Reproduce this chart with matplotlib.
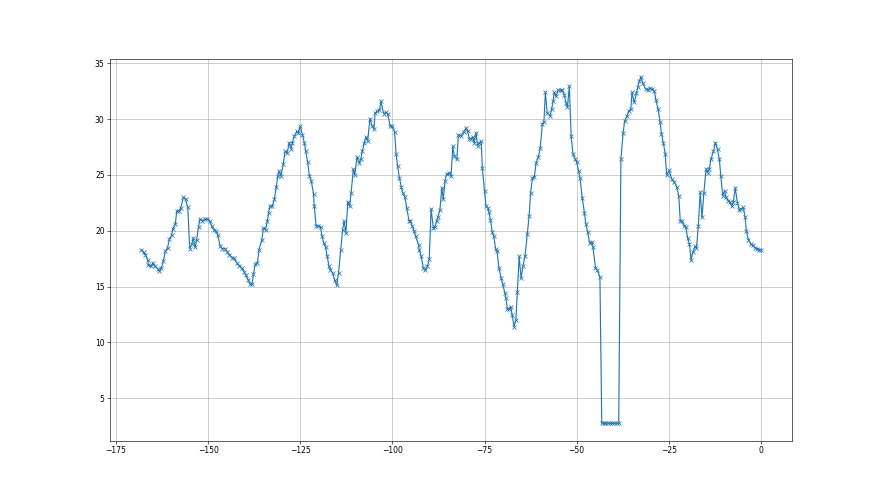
import numpy as np
import matplotlib
matplotlib.use("Agg")
import matplotlib.pyplot as plt

# readings, split into chunks (x = hours relative to now)
hours_a = [-168.2, -167.5, -167.0, -166.4, -166.2, -165.6, -165.0, -164.4, -163.7, -163.2,
           -162.7, -162.1, -161.6, -161.0, -160.5, -159.9, -159.6, -158.9, -158.5, -157.8,
           -157.4, -156.7, -156.1, -155.5, -155.0, -154.4, -154.0, -153.5, -153.1, -152.6,
           -152.2, -151.6, -150.8, -150.2, -149.6, -149.0, -148.5, -147.9, -147.4, -146.7,
           -146.1, -145.4, -144.8, -144.2, -143.6, -142.9, -142.2, -141.5, -140.9, -140.2,
           -139.7, -139.1, -138.6, -138.1, -137.7, -137.2, -136.6]
values_a = [18.3, 18.05, 17.85, 17.4, 16.95, 16.8, 17.1, 16.8, 16.6, 16.4,
            16.65, 17.3, 18.15, 18.45, 19.25, 19.6, 20.15, 20.6, 21.75, 21.8,
            22.05, 23.0, 22.8, 22.1, 18.4, 18.8, 19.35, 18.5, 19.2, 20.3,
            21.05, 20.9, 21.05, 21.05, 20.9, 20.4, 20.1, 19.95, 19.65, 18.6,
            18.4, 18.4, 18.1, 17.85, 17.6, 17.55, 17.1, 16.85, 16.65, 16.3,
            16.0, 15.6, 15.2, 15.2, 16.1, 17.0, 17.1]

hours_b = [-136.2, -135.4, -135.0, -134.4, -133.9, -133.6, -133.2, -132.6, -132.0, -131.5,
           -131.1, -130.7, -130.2, -129.6, -129.1, -128.5, -128.0, -127.5, -127.1, -126.6,
           -125.9, -125.5, -125.0, -124.4, -123.9, -123.5, -123.0, -122.5, -122.0, -121.4,
           -121.2, -120.7, -120.1, -119.5, -119.1, -118.6, -118.1, -117.7, -117.2, -116.8,
           -116.2, -115.7, -115.1, -114.6, -114.0, -113.5, -113.1, -112.6, -112.1, -111.6,
           -111.2, -110.6, -110.2, -109.6, -109.0, -108.5, -108.2, -107.6, -107.2, -106.7,
           -106.1, -105.5, -105.0, -104.7, -104.1, -103.5, -103.1, -102.4, -101.8, -101.3,
           -100.6]
values_b = [18.3, 19.2, 20.25, 20.1, 20.9, 21.6, 22.2, 22.2, 22.85, 23.9,
            24.9, 25.35, 24.9, 26.0, 27.1, 27.0, 27.9, 27.35, 27.9, 28.5,
            28.9, 28.8, 29.35, 28.6, 27.9, 27.1, 26.15, 24.9, 24.45, 23.3,
            22.2, 20.45, 20.45, 20.35, 19.5, 18.9, 18.5, 17.75, 16.8, 16.5,
            16.2, 15.6, 15.1, 16.25, 18.3, 20.1, 20.85, 19.8, 22.6, 22.2,
            23.4, 25.5, 25.0, 26.6, 26.1, 26.45, 27.1, 27.9, 28.4, 28.05,
            30.05, 29.4, 29.1, 30.55, 30.7, 30.8, 31.6, 30.5, 30.6, 30.5,
            29.4]

hours_c = [-100.0, -99.4, -99.0, -98.6, -98.1, -97.6, -97.2, -96.6, -96.1, -95.5,
           -95.1, -94.6, -94.1, -93.7, -92.9, -92.7, -92.2, -91.6, -91.1, -90.5,
           -90.0, -89.5, -88.9, -88.5, -88.0, -87.6, -87.1, -86.6, -86.2, -85.7,
           -85.3, -84.6, -84.1, -83.6, -83.2, -82.5, -82.1, -81.4, -80.7, -80.0,
           -79.6, -79.1, -78.7, -78.2, -77.8, -77.3, -76.9, -76.4, -75.9, -75.6,
           -75.0, -74.6, -74.1, -73.8, -73.4, -72.9, -72.5, -72.0, -71.6, -71.1,
           -70.5, -70.1, -69.5, -69.2, -68.8, -68.4, -67.9, -67.5, -67.0, -66.5,
           -66.1, -65.6, -65.1, -64.6]
values_c = [29.35, 28.85, 26.9, 25.8, 24.75, 23.9, 23.4, 23.0, 22.05, 20.9,
            20.85, 20.4, 19.95, 19.5, 18.75, 18.25, 17.7, 16.65, 16.45, 16.8,
            17.45, 21.95, 20.25, 20.3, 20.85, 21.25, 21.9, 23.85, 22.8, 24.5,
            25.05, 25.2, 24.9, 27.55, 26.7, 26.4, 28.6, 28.5, 28.85, 29.2,
            28.9, 28.25, 28.25, 28.4, 27.9, 28.8, 27.6, 27.9, 28.0, 25.6,
            23.6, 22.2, 22.05, 21.65, 21.0, 19.85, 19.5, 18.4, 18.15, 16.65,
            15.75, 15.25, 14.45, 13.95, 12.95, 13.0, 13.2, 12.45, 11.4, 12.0,
            14.5, 17.7, 15.75, 16.8]

hours_d = [-64.0, -63.4, -62.9, -62.5, -62.0, -61.5, -61.0, -60.4, -59.9, -59.3,
           -58.9, -58.5, -58.0, -57.2, -56.8, -56.4, -56.1, -55.6, -55.0, -54.3,
           -53.9, -53.4, -52.9, -52.5, -52.0, -51.5, -51.0, -50.4, -50.0, -49.5,
           -49.1, -48.5, -47.9, -47.5, -47.0, -46.5, -45.9, -45.6, -44.9, -44.4,
           -43.7, -43.2, -42.7, -42.2, -41.6, -41.0, -40.4, -39.8, -39.2, -38.6,
           -38.0, -37.4, -37.0, -36.4, -35.9, -35.3, -35.0, -34.4, -33.8, -33.4,
           -33.0, -32.6]
values_d = [17.75, 19.75, 21.35, 23.4, 24.75, 24.8, 26.1, 26.6, 27.4, 29.6,
            29.7, 32.4, 30.55, 30.3, 30.9, 31.6, 32.4, 32.05, 32.6, 32.6,
            32.6, 32.2, 31.45, 31.1, 32.95, 28.5, 26.9, 26.4, 26.15, 25.35,
            24.75, 22.95, 21.6, 20.6, 19.85, 18.9, 19.0, 18.55, 16.7, 16.45,
            15.85, 2.75, 2.75, 2.75, 2.75, 2.75, 2.75, 2.75, 2.75, 2.75,
            26.45, 28.8, 29.8, 30.25, 30.7, 30.9, 32.4, 31.5, 32.3, 32.9,
            33.4, 33.8]

hours_e = [-32.1, -31.3, -30.7, -30.1, -29.5, -28.9, -28.5, -27.9, -27.4, -27.0,
           -26.5, -26.0, -25.6, -24.9, -24.2, -23.6, -22.9, -22.3, -21.9, -21.4,
           -20.8, -20.4, -19.9, -19.4, -19.0, -18.5, -17.9, -17.5, -17.0, -16.5,
           -16.0, -15.5, -14.9, -14.5, -14.0, -13.6, -12.9, -12.4, -11.8, -11.3,
           -10.9, -10.4, -9.9, -9.5, -8.9, -8.4, -7.9, -7.5, -7.0, -6.4,
           -5.9, -5.3, -4.8, -4.3, -4.0, -3.4, -2.8, -2.3, -1.6, -1.0,
           -0.5, 0.0]
values_e = [33.25, 32.7, 32.65, 32.75, 32.7, 32.5, 31.7, 30.9, 29.75, 28.7,
            27.9, 26.9, 25.0, 25.4, 24.6, 24.4, 23.95, 23.1, 20.85, 20.85,
            20.45, 20.35, 19.35, 18.8, 17.4, 18.05, 18.6, 18.45, 20.45, 23.45,
            21.2, 23.4, 25.55, 25.2, 25.55, 26.4, 27.1, 27.9, 27.3, 26.4,
            24.9, 23.15, 23.55, 23.0, 22.7, 22.55, 22.2, 22.55, 23.85, 22.5,
            21.9, 21.95, 22.1, 21.2, 20.0, 19.2, 18.8, 18.7, 18.45, 18.4,
            18.3, 18.3]

hours = np.array(hours_a + hours_b + hours_c + hours_d + hours_e)
values = np.array(values_a + values_b + values_c + values_d + values_e)

fig = plt.figure(figsize=(16, 9), dpi=55)
ax = fig.add_subplot(111)
ax.plot(hours, values, marker='x')
ax.grid(True)

fig.savefig('out.png', dpi=55)
